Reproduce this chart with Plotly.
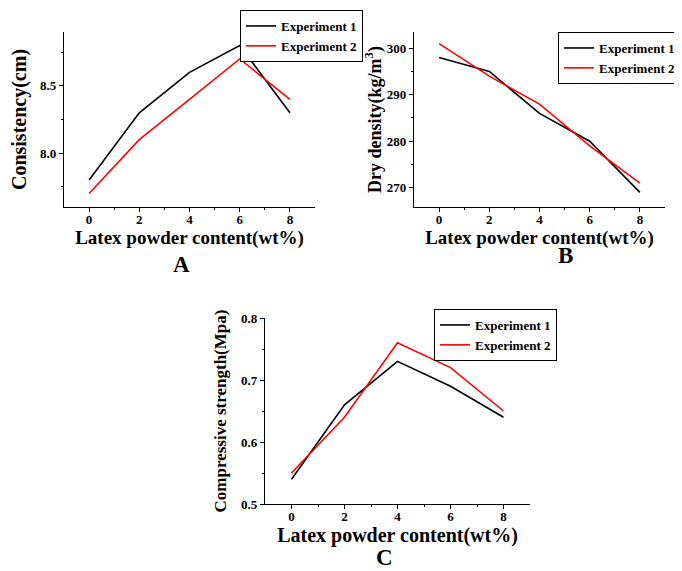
import plotly.graph_objects as go

x_content = [0, 2, 4, 6, 8]
consistency_exp1 = [7.8, 8.3, 8.6, 8.8, 8.3]
consistency_exp2 = [7.7, 8.1, 8.4, 8.7, 8.4]
density_exp1 = [298, 295, 286, 280, 269]
density_exp2 = [301, 294, 288, 279, 271]
strength_exp1 = [0.54, 0.66, 0.73, 0.69, 0.64]
strength_exp2 = [0.55, 0.64, 0.76, 0.72, 0.65]
series_names = ["Experiment 1", "Experiment 2"]
colors = ["#000000", "#ff0000"]
x_title = "Latex powder content(wt%)"

# page body has an 8px default margin; size the figure to fit the window
OFF = 8
W, H = 682 - OFF, 571 - OFF
FONT = "Liberation Serif"

def px_x(a, b):
    return [(a - OFF) / W, (b - OFF) / W]

def px_y(top, bottom):
    return [1 - (bottom - OFF) / H, 1 - (top - OFF) / H]

fig = go.Figure()

panels = [
    ("x", "y", "legend", consistency_exp1, consistency_exp2),
    ("x2", "y2", "legend2", density_exp1, density_exp2),
    ("x3", "y3", "legend3", strength_exp1, strength_exp2),
]
for xa, ya, lg, s1, s2 in panels:
    for name, vals, c in zip(series_names, [s1, s2], colors):
        fig.add_trace(go.Scatter(x=x_content, y=vals, mode="lines", name=name,
                                 line=dict(color=c, width=1.6),
                                 xaxis=xa, yaxis=ya, legend=lg))

tickfont = dict(family=FONT, size=13, color="black", weight="bold")

def f(size):
    return dict(family=FONT, size=size, color="black", weight="bold")

def xaxis(domain, anchor, size=19, standoff=0):
    return dict(domain=domain, anchor=anchor, range=[-1, 9], automargin=False,
                tickvals=[0, 2, 4, 6, 8], ticks="outside", ticklen=4,
                tickwidth=1, tickcolor="black", ticklabelstandoff=-4,
                minor=dict(tickvals=[1, 3, 5, 7], ticks="outside", ticklen=2, tickcolor="black"),
                showline=True, linecolor="black", linewidth=1.2,
                showgrid=False, zeroline=False, tickfont=tickfont,
                title=dict(text=x_title, font=f(size), standoff=standoff))

def yaxis(domain, anchor, rng, tv, mv, fmt, text, standoff, size=18):
    return dict(domain=domain, anchor=anchor, range=rng, tickvals=tv, tickformat=fmt,
                automargin=False,
                ticks="outside", ticklen=4, tickwidth=1, tickcolor="black",
                minor=dict(tickvals=mv, ticks="outside", ticklen=2, tickcolor="black"),
                showline=True, linecolor="black", linewidth=1.2,
                showgrid=False, zeroline=False, tickfont=tickfont,
                title=dict(text=text, font=f(size), standoff=standoff))

def legend(x0, y0, anchor="left"):
    return dict(x=(x0 - OFF) / W, y=1 - (y0 - OFF) / H, xanchor=anchor, yanchor="top",
                bgcolor="white", bordercolor="black", borderwidth=1,
                font=f(13), tracegroupgap=0)

fig.update_layout(
    width=W, height=H,
    margin=dict(l=0, r=0, t=0, b=0, autoexpand=False),
    paper_bgcolor="white", plot_bgcolor="white",
    xaxis=xaxis(px_x(64, 315), "y"),
    yaxis=yaxis(px_y(32, 207), "x", [7.6, 8.9], [8.0, 8.5], [7.75, 8.25, 8.75], ".1f",
                "Consistency(cm)", 8, 20),
    xaxis2=xaxis(px_x(414, 665), "y2"),
    yaxis2=yaxis(px_y(32, 207), "x2", [265.85, 303.5], [270, 280, 290, 300],
                 [275, 285, 295], "d", "Dry density(kg/m<sup>3</sup>)", 0, 18),
    xaxis3=xaxis(px_x(265, 530), "y3", 20),
    yaxis3=yaxis(px_y(318, 504), "x3", [0.5, 0.8], [0.5, 0.6, 0.7, 0.8],
                 [0.55, 0.65, 0.75], ".1f", "Compressive strength(Mpa)", 10, 17),
    legend=legend(240, 10),
    legend2=legend(681, 32, "right"),
    legend3=legend(434, 309),
    showlegend=True,
)

for txt, xp, yp in [("A", 182, 264), ("B", 565, 255), ("C", 384, 557)]:
    fig.add_annotation(text=txt, x=(xp - OFF) / W, y=1 - (yp - OFF) / H,
                       xref="paper", yref="paper",
                       showarrow=False, xanchor="center", yanchor="middle",
                       font=f(23))

fig.write_html("out.html")
